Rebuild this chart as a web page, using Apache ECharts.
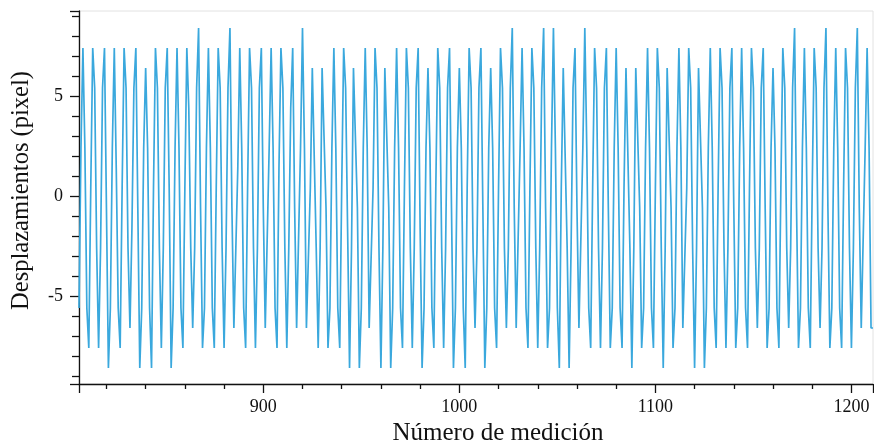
<!DOCTYPE html>
<html>
<head>
<meta charset="utf-8">
<script src="https://cdn.jsdelivr.net/npm/echarts@6/dist/echarts.min.js"></script>
<style>
  html, body { margin: 0; padding: 0; background: #fff; }
  #chart { width: 874px; height: 446px; }
</style>
</head>
<body>
<div id="chart"></div>
<script>
// Measurement index of the first sample; samples are consecutive measurements.
const firstMeasurement = 806;

// Displacement (pixel) of each measurement, 16 samples per row from 808 on.
const displacements = [
  -5.6, 2.4,
  7.4, 2.4, -5.6, -7.6, 0.4, 7.4, 5.4, -2.6, -7.6, -2.6, 5.4, 7.4, -0.6, -8.6, -5.6, 2.4,
  7.4, 1.4, -5.6, -7.6, 0.4, 7.4, 5.4, -2.6, -6.6, -1.6, 5.4, 7.4, -0.6, -8.6, -5.6, 2.4,
  6.4, 2.4, -5.6, -8.6, 0.4, 7.4, 5.4, -2.6, -7.6, -2.6, 5.4, 7.4, 0.4, -8.6, -5.6, 2.4,
  7.4, 2.4, -5.6, -7.6, 0.4, 7.4, 4.4, -2.6, -6.6, -2.6, 5.4, 8.4, -0.6, -7.6, -5.6, 2.4,
  7.4, 2.4, -5.6, -7.6, 0.4, 7.4, 5.4, -2.6, -7.6, -2.6, 5.4, 8.4, -0.6, -6.6, -6.6, 1.4,
  7.4, 2.4, -5.6, -7.6, 0.4, 7.4, 5.4, -2.6, -7.6, -2.6, 5.4, 7.4, -0.6, -6.6, -6.6, 2.4,
  7.4, 2.4, -5.6, -7.6, 1.4, 7.4, 5.4, -2.6, -7.6, -2.6, 4.4, 7.4, -0.6, -6.6, -6.6, 2.4,
  8.4, 2.4, -6.6, -6.6, 0.4, 6.4, 6.4, -2.6, -7.6, -2.6, 6.4, 6.4, -0.6, -7.6, -5.6, 2.4,
  7.4, 2.4, -5.6, -7.6, 0.4, 7.4, 5.4, -1.6, -8.6, -2.6, 6.4, 6.4, -0.6, -8.6, -5.6, 2.4,
  7.4, 2.4, -6.6, -6.6, 0.4, 7.4, 5.4, -2.6, -8.6, -2.6, 6.4, 6.4, -0.6, -8.6, -5.6, 2.4,
  7.4, 2.4, -5.6, -7.6, 0.4, 7.4, 5.4, -2.6, -7.6, -2.6, 5.4, 7.4, -1.6, -8.6, -5.6, 2.4,
  6.4, 2.4, -5.6, -7.6, 0.4, 7.4, 5.4, -2.6, -7.6, -2.6, 5.4, 7.4, -0.6, -8.6, -5.6, 2.4,
  6.4, 2.4, -5.6, -8.6, 0.4, 7.4, 5.4, -2.6, -6.6, -2.6, 5.4, 7.4, -0.6, -8.6, -5.6, 2.4,
  6.4, 2.4, -5.6, -7.6, 0.4, 7.4, 5.4, -2.6, -6.6, -2.6, 5.4, 8.4, -0.6, -6.6, -6.6, 2.4,
  7.4, 2.4, -5.6, -7.6, 0.4, 7.4, 5.4, -2.6, -7.6, -2.6, 5.4, 8.4, -0.6, -7.6, -5.6, 2.4,
  8.4, 2.4, -5.6, -8.6, 0.4, 6.4, 6.4, -2.6, -8.6, -2.6, 5.4, 7.4, -0.6, -6.6, -6.6, 2.4,
  8.4, 2.4, -5.6, -7.6, 0.4, 7.4, 5.4, -2.6, -7.6, -2.6, 5.4, 7.4, -0.6, -7.6, -5.6, 2.4,
  7.4, 2.4, -5.6, -7.6, 0.4, 6.4, 6.4, -2.6, -8.6, -2.6, 6.4, 6.4, -0.6, -7.6, -5.6, 2.4,
  7.4, 2.4, -5.6, -7.6, 0.4, 7.4, 5.4, -2.6, -8.6, -2.6, 6.4, 6.4, -0.6, -7.6, -5.6, 2.4,
  7.4, 2.4, -6.6, -6.6, 0.4, 7.4, 5.4, -2.6, -8.6, -2.6, 6.4, 6.4, -0.6, -8.6, -5.6, 2.4,
  7.4, 2.4, -5.6, -7.6, 0.4, 7.4, 5.4, -2.6, -7.6, -2.6, 5.4, 7.4, -0.6, -7.6, -5.6, 2.4,
  7.4, 2.4, -5.6, -7.6, 0.4, 7.4, 5.4, -2.6, -6.6, -2.6, 5.4, 7.4, -0.6, -7.6, -5.6, 2.4,
  6.4, 2.4, -5.6, -7.6, 0.4, 7.4, 5.4, -2.6, -6.6, -2.6, 5.4, 8.4, -0.6, -7.6, -5.6, 2.4,
  7.4, 2.4, -5.6, -7.6, 0.4, 7.4, 5.4, -2.6, -6.6, -2.6, 5.4, 8.4, -0.6, -7.6, -5.6, 2.4,
  7.4, 2.4, -5.6, -7.6, 0.4, 7.4, 5.4, -2.6, -7.6, -2.6, 5.4, 8.4, -0.6, -6.6, -6.6, 2.4,
  7.4, 2.4, -6.6, -6.6
];

// Axis extents
const xRange = [806, 1211];
const yRange = [-9.4, 9.25];

const xTitle = 'Número de medición';
const yTitle = 'Desplazamientos (pixel)';

const points = displacements.map((v, i) => [firstMeasurement + i, v]);

const serif = 'Liberation Serif';
const ink = '#111';
const chart = echarts.init(document.getElementById('chart'), null, { renderer: 'canvas' });

chart.setOption({
  animation: false,
  backgroundColor: '#ffffff',
  grid: {
    left: 79, right: 1, top: 11, bottom: 62,
    outerBoundsMode: 'none',
    containLabel: false,
    show: true, borderColor: '#e2e2e2', borderWidth: 1, backgroundColor: 'transparent'
  },
  xAxis: {
    type: 'value',
    min: xRange[0], max: xRange[1],
    splitNumber: 4,
    name: xTitle,
    nameLocation: 'middle',
    nameGap: 36,
    nameTextStyle: { fontFamily: serif, fontSize: 25, color: ink, padding: [0, 0, 0, 44] },
    axisLine: { show: true, onZero: false, lineStyle: { color: ink, width: 1.3 } },
    axisTick: { show: true, length: 9, lineStyle: { color: ink, width: 1.3 } },
    minorTick: { show: true, splitNumber: 5, length: 5, lineStyle: { color: ink, width: 1.3 } },
    axisLabel: {
      fontFamily: serif, fontSize: 18, color: ink, margin: 14,
      showMinLabel: false, showMaxLabel: false,
      formatter: (v) => String(v)
    },
    splitLine: { show: false }
  },
  yAxis: {
    type: 'value',
    min: yRange[0], max: yRange[1],
    splitNumber: 4,
    name: yTitle,
    nameLocation: 'middle',
    nameGap: 45,
    nameTextStyle: { fontFamily: serif, fontSize: 24.5, color: ink, padding: [0, 0, 0, 14] },
    axisLine: { show: true, onZero: false, lineStyle: { color: ink, width: 1.3 } },
    axisTick: { show: true, length: 9, lineStyle: { color: ink, width: 1.3 } },
    minorTick: { show: true, splitNumber: 5, length: 7, lineStyle: { color: ink, width: 1.3 } },
    axisLabel: {
      fontFamily: serif, fontSize: 18, color: ink, margin: 16,
      showMinLabel: false, showMaxLabel: false,
      formatter: (v) => String(v)
    },
    splitLine: { show: false }
  },
  series: [{
    type: 'line',
    data: points,
    showSymbol: false,
    symbol: 'none',
    lineStyle: { color: '#3aa8dd', width: 1.7 },
    clip: true
  }]
});
</script>
</body>
</html>
